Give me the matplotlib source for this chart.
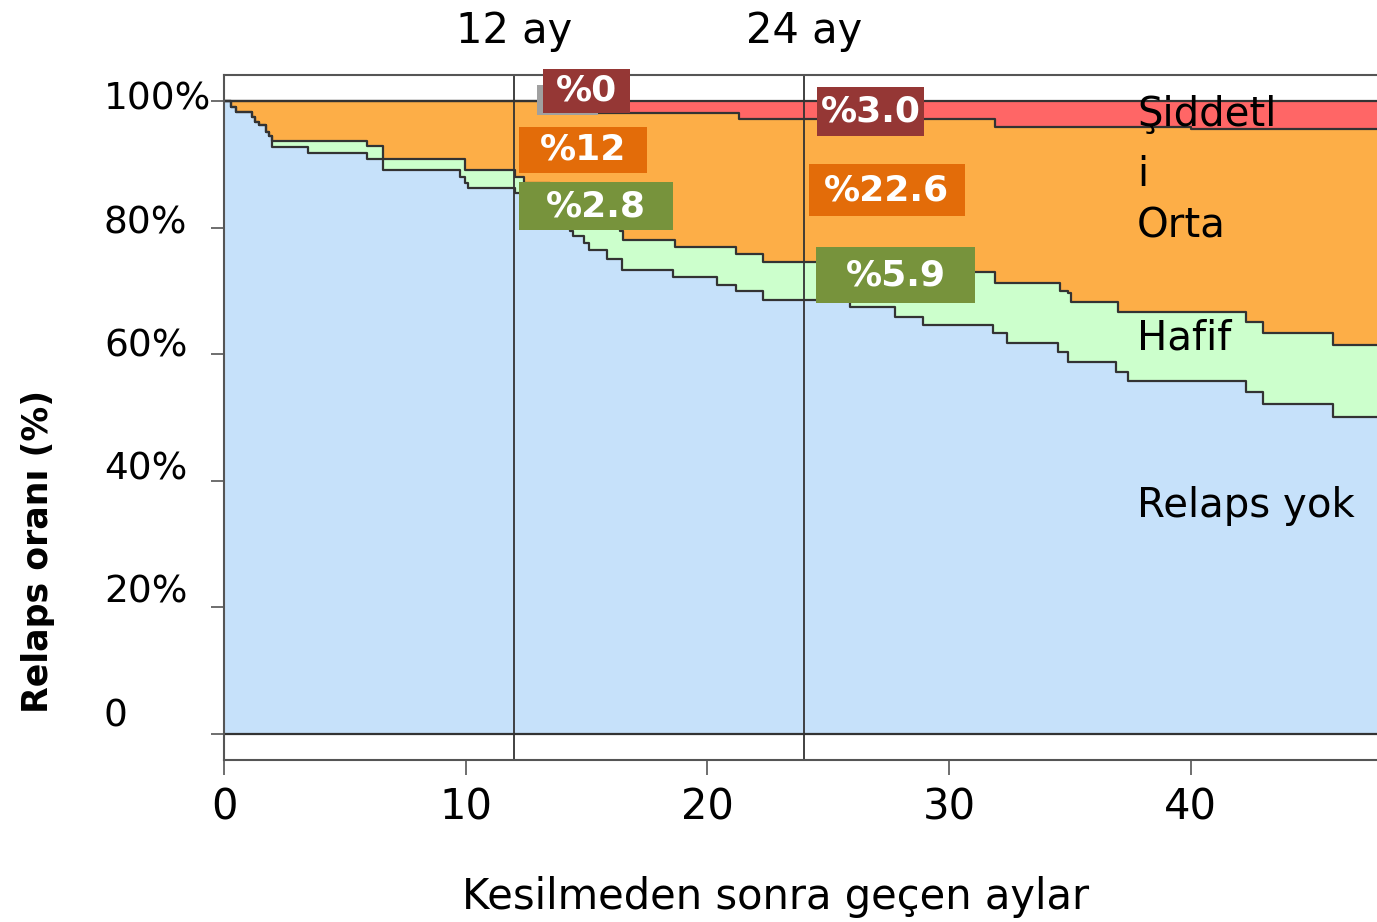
import matplotlib.pyplot as plt
from matplotlib import font_manager
from matplotlib.patches import Rectangle
from matplotlib.transforms import ScaledTranslation

# step curves: months after discontinuation -> cumulative %
no_relapse_t = [0, 0.3, 0.5, 1.15, 1.3, 1.45, 1.72, 1.85, 1.97, 3.49, 5.9, 6.59, 9.76, 9.97,
                10.1, 12.04, 12.6, 13.4, 14.3, 14.45, 14.9, 15.1, 15.83, 16.45, 18.59, 20.38,
                21.2, 22.3, 25.9, 27.76, 28.9, 31.8, 32.4, 34.5, 34.9, 36.9, 37.4, 42.3, 43.0, 45.9]
no_relapse_v = [100, 99.1, 98.2, 97.5, 96.6, 96.2, 95.1, 94.4, 92.8, 91.7, 90.8, 89.1, 88.0, 87.0,
                86.2, 85.4, 83.5, 81.5, 79.4, 78.6, 77.5, 76.5, 75.1, 73.3, 72.2, 70.9,
                69.9, 68.6, 67.5, 65.9, 64.6, 63.3, 61.7, 60.4, 58.8, 57.2, 55.7, 54.1, 52.2, 50.1]

mild_t = [0, 0.3, 0.5, 1.15, 1.3, 1.45, 1.72, 1.85, 1.97, 5.9, 6.59, 9.97, 12.04, 12.4, 13.5,
          14.6, 15.5, 16.38, 16.5, 18.65, 21.2, 22.3, 27.0, 31.9, 34.6, 34.9, 35.06, 37.0,
          42.3, 43.0, 45.9]
mild_v = [100, 99.1, 98.2, 97.5, 96.6, 96.2, 95.1, 94.4, 93.7, 92.9, 90.9, 89.1, 88.0, 87.0, 85.0,
          83.0, 81.0, 79.4, 78.0, 77.0, 75.9, 74.5, 72.9, 71.3, 69.9, 69.6, 68.3, 66.7,
          65.1, 63.4, 61.5]

moderate_t = [0, 13.3, 21.3, 31.9, 40.0]
moderate_v = [100, 98.1, 97.1, 95.9, 95.6]

t_end = 47.7

band_labels = ['Şiddetl\ni', 'Orta', 'Hafif', 'Relaps yok']
labels_12 = ['%0', '%12', '%2.8']
labels_24 = ['%3.0', '%22.6', '%5.9']

x_ticks = [0, 10, 20, 30, 40]
y_ticks = [0, 20, 40, 60, 80, 100]
y_tick_labels = ['0', '20%', '40%', '60%', '80%', '100%']

c_blue = '#c6e1fa'
c_green = '#ccffcc'
c_orange = '#fdae47'
c_red = '#ff6666'
c_box_red = '#953735'
c_box_orange = '#e36c09'
c_box_green = '#77933c'
c_line = '#333333'

names = {f.name for f in font_manager.fontManager.ttflist}
if 'Liberation Sans Narrow' in names:
    narrow = 'Liberation Sans Narrow'
    xt_size, xl_size, yl_size = 36, 34, 31
else:
    narrow = 'DejaVu Sans'
    xt_size, xl_size, yl_size = 30, 30, 25

plt.rcParams['font.family'] = 'DejaVu Sans'

fig = plt.figure(figsize=(13.77, 9.22), dpi=100)
ax = fig.add_axes([0.1627, 0.1757, 0.8373, 0.7430])


def ext(t, v):
    return list(t) + [t_end], list(v) + [v[-1]]


# layered fills, top layer first
ax.fill_between([0, t_end], 0, 100, color=c_red, lw=0)
mt, mv = ext(moderate_t, moderate_v)
ax.fill_between(mt, 0, mv, step='post', color=c_orange, lw=0)
gt, gv = ext(mild_t, mild_v)
ax.fill_between(gt, 0, gv, step='post', color=c_green, lw=0)
bt, bv = ext(no_relapse_t, no_relapse_v)
ax.fill_between(bt, 0, bv, step='post', color=c_blue, lw=0)

for t, v in [(mt, mv), (gt, gv), (bt, bv)]:
    ax.step(t, v, where='post', color=c_line, lw=1.6)

ax.axhline(100, color=c_line, lw=1.6)
ax.axhline(0, color=c_line, lw=1.6)
ax.axvline(12, color=c_line, lw=1.3)
ax.axvline(24, color=c_line, lw=1.3)

ax.set_xlim(0, t_end)
ax.set_ylim(-4.1, 104.1)

for s in ['left', 'top', 'bottom']:
    ax.spines[s].set_color('#555555')
    ax.spines[s].set_linewidth(1.5)
ax.spines['right'].set_visible(False)

ax.set_xticks(x_ticks)
ax.set_xticklabels([str(x) for x in x_ticks], fontsize=xt_size, family=narrow)
ax.tick_params(axis='x', length=11, width=1.2, color='#555555', pad=8)

ax.set_yticks(y_ticks)
ax.set_yticklabels(y_tick_labels, fontsize=27)
ax.tick_params(axis='y', length=9.5, width=1.2, color='#555555', pad=77)
for lab, v in zip(ax.get_yticklabels(), y_ticks):
    lab.set_horizontalalignment('left')
    dy = (5 + 0.17 * (100 - v)) / 100
    lab.set_transform(lab.get_transform() + ScaledTranslation(0, dy, fig.dpi_scale_trans))

ax.set_xlabel('Kesilmeden sonra geçen aylar', fontsize=xl_size, family=narrow)
ax.xaxis.set_label_coords(0.478, -0.17)
ax.set_ylabel('Relaps oranı (%)', fontsize=yl_size, family=narrow, fontweight='bold')
ax.yaxis.set_label_coords(-0.147, 0.304)

# month markers above the plot
ax.text(12, 109.2, '12 ay', fontsize=30, ha='center', va='baseline', clip_on=False)
ax.text(24, 109.2, '24 ay', fontsize=30, ha='center', va='baseline', clip_on=False)

# band names on the right
ax.text(37.77, 100.9, band_labels[0], fontsize=29, ha='left', va='top', linespacing=1.65)
ax.text(37.77, 78.4, band_labels[1], fontsize=29, ha='left', va='baseline')
ax.text(37.77, 60.7, band_labels[2], fontsize=29, ha='left', va='baseline')
ax.text(37.77, 34.3, band_labels[3], fontsize=29, ha='left', va='baseline')

# shadow behind the %0 box
ax.add_patch(Rectangle((12.95, 97.8), 2.52, 4.7, color='#a0a0a0', lw=0, clip_on=False, zorder=4))

boxes = [
    (labels_12[0], 13.20, 98.1, 16.79, 105.1, c_box_red),
    (labels_12[1], 12.20, 88.6, 17.50, 95.9, c_box_orange),
    (labels_12[2], 12.20, 79.6, 18.57, 87.2, c_box_green),
    (labels_24[0], 24.53, 94.5, 28.96, 102.2, c_box_red),
    (labels_24[1], 24.20, 81.8, 30.65, 90.0, c_box_orange),
    (labels_24[2], 24.49, 68.1, 31.07, 76.9, c_box_green),
]
for txt, x0, y0, x1, y1, col in boxes:
    ax.add_patch(Rectangle((x0, y0), x1 - x0, y1 - y0, color=col, lw=0, clip_on=False, zorder=5))
    ax.text((x0 + x1) / 2, (y0 + y1) / 2, txt, color='white', fontsize=26, fontweight='bold',
            ha='center', va='center', zorder=6, clip_on=False)

fig.savefig('out.png', dpi=100)
